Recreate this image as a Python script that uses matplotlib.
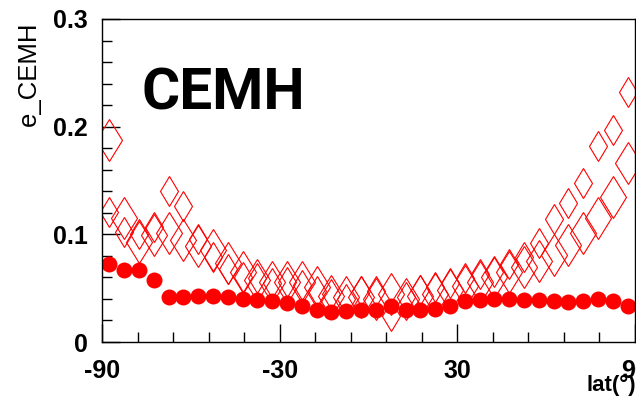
import matplotlib
matplotlib.use('Agg')
import matplotlib.pyplot as plt
import numpy as np
from matplotlib.ticker import FixedLocator, MultipleLocator, FuncFormatter

# latitude bin centres (5 deg bins)
lat = [-87.5, -82.5, -77.5, -72.5, -67.5, -62.5, -57.5, -52.5, -47.5, -42.5,
       -37.5, -32.5, -27.5, -22.5, -17.5, -12.5, -7.5, -2.5, 2.5, 7.5,
       12.5, 17.5, 22.5, 27.5, 32.5, 37.5, 42.5, 47.5, 52.5, 57.5,
       62.5, 67.5, 72.5, 77.5, 82.5, 87.5]

# e_CEMH, filled circles
e_full = [0.072, 0.067, 0.067, 0.058, 0.042, 0.042, 0.043, 0.043, 0.042, 0.040,
          0.039, 0.038, 0.036, 0.033, 0.030, 0.028, 0.029, 0.030, 0.030, 0.033,
          0.030, 0.030, 0.031, 0.033, 0.038, 0.039, 0.040, 0.040, 0.039, 0.039,
          0.038, 0.037, 0.038, 0.040, 0.038, 0.033]

# e_CEMH, large open diamonds
e_big = [0.188, 0.115, 0.093, 0.099, 0.101, 0.095, 0.089, 0.085, 0.073, 0.065,
         0.058, 0.056, 0.056, 0.056, 0.051, 0.043, 0.042, 0.042, 0.040, 0.045,
         0.040, 0.043, 0.045, 0.048, 0.052, 0.056, 0.060, 0.065, 0.070, 0.075,
         0.081, 0.090, 0.101, 0.115, 0.135, 0.166]

# e_CEMH, small open diamonds
e_small = [0.121, 0.102, 0.100, 0.107, 0.140, 0.126, 0.096, 0.079, 0.068, 0.060,
           0.059, 0.055, 0.056, 0.053, 0.047, 0.045, 0.040, 0.047, 0.047, 0.024,
           0.042, 0.048, 0.051, 0.055, 0.059, 0.063, 0.065, 0.072, 0.079, 0.092,
           0.114, 0.129, 0.148, 0.182, 0.197, 0.232]

fig = plt.figure(figsize=(6.36, 4.03), dpi=100)
ax = fig.add_axes([102/636, 1-342/403, 533/636, 323/403])

ax.plot(lat, e_big, ls='none', marker='d', ms=21.5, mfc='none', mec='red', mew=0.8)
ax.plot(lat, e_small, ls='none', marker='d', ms=15, mfc='none', mec='red', mew=0.8)
ax.plot(lat, e_full, ls='none', marker='o', ms=11.5, mfc='red', mec='red', mew=0)

ax.set_xlim(-90, 90)
ax.set_ylim(0, 0.3)
ax.xaxis.set_major_locator(FixedLocator([-90, -30, 30, 90]))
ax.xaxis.set_minor_locator(FixedLocator(np.arange(-90, 91, 12)))
ax.yaxis.set_major_locator(MultipleLocator(0.1))
ax.yaxis.set_minor_locator(MultipleLocator(0.02))
ax.yaxis.set_major_formatter(FuncFormatter(lambda v, p: '0' if abs(v) < 1e-9 else '%g' % v))
ax.xaxis.set_major_formatter(FuncFormatter(lambda v, p: '%d' % v))

ax.tick_params(which='both', direction='in', top=False, right=False, width=1)
ax.tick_params(which='major', length=13)
ax.tick_params(which='minor', length=7)
ax.tick_params(axis='y', which='major', pad=10)
ax.tick_params(axis='x', which='major', pad=12)
for lab in ax.get_xticklabels() + ax.get_yticklabels():
    lab.set_fontfamily('Liberation Sans')
    lab.set_fontweight('bold')
    lab.set_fontsize(18)
for sp in ax.spines.values():
    sp.set_linewidth(1)

fig.text(29/636, 1-22/403, 'e_CEMH', rotation=90, ha='center', va='top',
         fontsize=18.5, family='Liberation Sans')
fig.text(636/636, 1-385/403, 'lat(\u00b0)', ha='right', va='center',
         fontsize=16, fontweight='bold', family='Liberation Sans')
ax.text(142/636, 1-94/403, 'CEMH', transform=fig.transFigure, ha='left', va='center',
        fontsize=42, fontweight='bold', family='Roboto')

fig.savefig('out.png', dpi=100)
